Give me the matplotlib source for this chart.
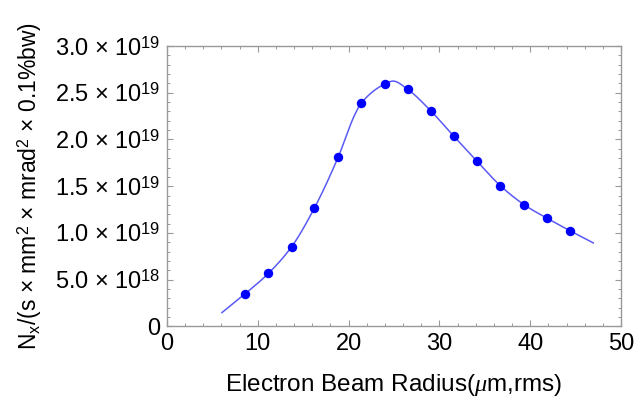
import numpy as np
import matplotlib
matplotlib.use("Agg")
import matplotlib.pyplot as plt
from matplotlib.ticker import MultipleLocator, FuncFormatter

plt.rcParams["font.family"] = ["Liberation Sans", "DejaVu Sans"]
plt.rcParams["mathtext.fontset"] = "custom"
plt.rcParams["mathtext.rm"] = "Liberation Sans"
plt.rcParams["mathtext.it"] = "Liberation Serif:italic"
plt.rcParams["mathtext.sf"] = "Liberation Sans"

# marker data (radius in um, flux in 1e19 units)
radius = [8.6, 11.16, 13.73, 16.22, 18.87, 21.37, 23.98, 26.51, 29.11,
          31.61, 34.17, 36.7, 39.35, 41.85, 44.42]
flux = [0.348, 0.566, 0.853, 1.264, 1.816, 2.387, 2.593, 2.536, 2.30,
        2.032, 1.765, 1.506, 1.300, 1.157, 1.021]

# fitted curve knots
curve_r = [6.05, 8.6, 11.16, 13.73, 16.22, 18.87, 20.7, 21.37, 23.98, 24.9,
           26.51, 29.11, 31.61, 34.17, 36.7, 39.35, 41.85, 44.42, 46.95]
curve_f = [0.147, 0.348, 0.566, 0.853, 1.264, 1.816, 2.27, 2.387, 2.593, 2.625,
           2.536, 2.30, 2.032, 1.765, 1.506, 1.300, 1.157, 1.021, 0.893]


def pchip(x, y, xn):
    # shape preserving cubic through the knots
    x = np.asarray(x, float)
    y = np.asarray(y, float)
    h = np.diff(x)
    d = np.diff(y) / h
    m = np.zeros_like(y)
    for k in range(1, len(x) - 1):
        if d[k - 1] * d[k] > 0:
            w1 = 2 * h[k] + h[k - 1]
            w2 = h[k] + 2 * h[k - 1]
            m[k] = (w1 + w2) / (w1 / d[k - 1] + w2 / d[k])
    m[0] = d[0]
    m[-1] = d[-1]
    idx = np.clip(np.searchsorted(x, xn) - 1, 0, len(h) - 1)
    t = (xn - x[idx]) / h[idx]
    h00 = 2 * t**3 - 3 * t**2 + 1
    h10 = t**3 - 2 * t**2 + t
    h01 = -2 * t**3 + 3 * t**2
    h11 = t**3 - t**2
    return h00 * y[idx] + h10 * h[idx] * m[idx] + h01 * y[idx + 1] + h11 * h[idx] * m[idx + 1]


xs = np.linspace(curve_r[0], curve_r[-1], 600)
ys = pchip(curve_r, curve_f, xs)

fig = plt.figure(figsize=(6.35, 3.97), dpi=100)
ax = fig.add_axes([0.263, 0.178, 0.715, 0.706])

ax.plot(xs, np.array(ys) * 1e19, color="#5a5af5", lw=1.1, zorder=2)
ax.plot(radius, np.array(flux) * 1e19, "o", color="#0000ff", ms=6.8, mec="none", zorder=3)

ax.set_xlim(0, 50)
ax.set_ylim(0, 3.0e19)
ax.xaxis.set_major_locator(MultipleLocator(10))
ax.xaxis.set_minor_locator(MultipleLocator(2))
ax.yaxis.set_major_locator(MultipleLocator(0.5e19))
ax.yaxis.set_minor_locator(MultipleLocator(0.1e19))


def yfmt(v, pos):
    if abs(v) < 1:
        return "0"
    e = int(np.floor(np.log10(abs(v)) + 1e-9))
    mant = v / 10**e
    return r"$%.1f\,\times\,10^{%d}$" % (mant, e)


ax.yaxis.set_major_formatter(FuncFormatter(yfmt))

for s in ax.spines.values():
    s.set_color("#999999")
    s.set_linewidth(1.0)
ax.tick_params(which="both", direction="in", top=True, right=True,
               color="#999999", labelsize=17, pad=5)
ax.tick_params(which="major", length=4.5, width=0.8)
ax.tick_params(which="minor", length=2.2, width=0.7)

ax.set_xlabel(r"Electron Beam Radius($\mu$m,rms)", fontsize=17.5)
ax.set_ylabel(r"N$_{\rm x}$/(s $\times$ mm$^2$ $\times$ mrad$^2$ $\times$ 0.1%bw)",
              fontsize=16.5)
ax.xaxis.set_label_coords(0.5, -0.163)
ax.yaxis.set_label_coords(-0.27, 0.5)

fig.savefig("out.png", dpi=100)
